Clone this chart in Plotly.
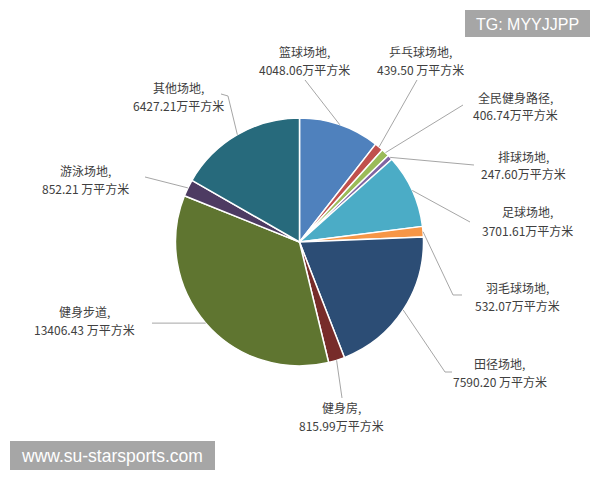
import math
import plotly.graph_objects as go

# ---- data ----
categories = ["篮球场地", "乒乓球场地", "全民健身路径", "排球场地", "足球场地", "羽毛球场地",
              "田径场地", "健身房", "健身步道", "游泳场地", "其他场地"]
values = [4048.06, 439.50, 406.74, 247.60, 3701.61, 532.07,
          7590.20, 815.99, 13406.43, 852.21, 6427.21]
value_labels = ["4048.06万平方米", "439.50 万平方米", "406.74万平方米", "247.60万平方米",
                "3701.61万平方米", "532.07万平方米", "7590.20 万平方米", "815.99万平方米",
                "13406.43 万平方米", "852.21 万平方米", "6427.21万平方米"]
colors = ["#4f81bd", "#c0504d", "#9bbb59", "#8064a2", "#4bacc6", "#f79646",
          "#2c4d75", "#772c2a", "#5f7530", "#4d3b62", "#276a7c"]

# ---- layout (window pixels) ----
OFF = 8                     # page body margin
W, H = 600 - OFF, 480 - OFF
cx, cy, r = 299.5, 242.0, 124.0

# label centres (px) and leader-line end points near each label (px)
label_pos = [(304, 61), (420, 61), (515, 106), (523, 165), (527, 221), (517, 296),
             (500, 372), (341, 416), (84, 320), (85, 179), (178, 96)]
leader_ends = [
    [(305, 80)],
    [(417, 80)],
    [(463, 105)],
    [(474, 165)],
    [(470, 222)],
    [(453, 295), (462, 295)],
    [(445, 372), (452, 372)],
    [(342, 398)],
    [(152, None)],
    [(145, 177)],
    [(228, 96), (221, 94)],
]

def px(x):
    return (x - OFF) / W

def py(y):
    return 1 - (y - OFF) / H

fig = go.Figure(go.Pie(
    labels=categories,
    values=values,
    sort=False,
    direction="clockwise",
    rotation=0,
    marker=dict(colors=colors, line=dict(color="white", width=1.5)),
    textinfo="none",
    hoverinfo="label+value",
    showlegend=False,
    domain=dict(x=[px(cx - r), px(cx + r)], y=[py(cy + r), py(cy - r)]),
))

label_font = dict(family="Noto Sans CJK SC", size=12, color="#404040")
total = sum(values)
cum = 0.0
shapes = []
annotations = []
for i, v in enumerate(values):
    mid = (cum + v / 2) / total * 2 * math.pi
    cum += v
    sx = cx + r * math.sin(mid)
    sy = cy - r * math.cos(mid)
    pts = [(sx, sy)]
    for (ex, ey) in leader_ends[i]:
        pts.append((ex, sy if ey is None else ey))
    path = "M " + " L ".join(f"{px(x):.5f},{py(y):.5f}" for x, y in pts)
    shapes.append(dict(type="path", xref="paper", yref="paper", path=path,
                       line=dict(color="#a6a6a6", width=1)))
    lx, ly = label_pos[i]
    annotations.append(dict(
        x=px(lx), y=py(ly - 9), xref="paper", yref="paper",
        text=f"{categories[i]},", showarrow=False, borderpad=0,
        xanchor="center", yanchor="middle", font=label_font,
    ))
    annotations.append(dict(
        x=px(lx), y=py(ly + 9), xref="paper", yref="paper",
        text=value_labels[i], showarrow=False, borderpad=0,
        xanchor="center", yanchor="middle", font=label_font,
    ))

# watermark boxes
shapes.append(dict(type="rect", xref="paper", yref="paper",
                   x0=px(465), x1=px(590), y0=py(37), y1=py(10),
                   fillcolor="#a6a6a6", line=dict(width=0)))
shapes.append(dict(type="rect", xref="paper", yref="paper",
                   x0=px(10), x1=px(215), y0=py(470), y1=py(441),
                   fillcolor="#a6a6a6", line=dict(width=0)))
annotations.append(dict(x=px(527.5), y=py(24), xref="paper", yref="paper",
                        text="TG: MYYJJPP", showarrow=False, xanchor="center", yanchor="middle",
                        font=dict(family="Liberation Sans", size=16, color="white")))
annotations.append(dict(x=px(112.5), y=py(455.5), xref="paper", yref="paper",
                        text="www.su-starsports.com", showarrow=False, xanchor="center", yanchor="middle",
                        font=dict(family="Liberation Sans", size=17.5, color="white")))

fig.update_layout(
    width=W, height=H,
    margin=dict(l=0, r=0, t=0, b=0),
    paper_bgcolor="white", plot_bgcolor="white",
    shapes=shapes, annotations=annotations,
)

fig.write_html("out.html")
